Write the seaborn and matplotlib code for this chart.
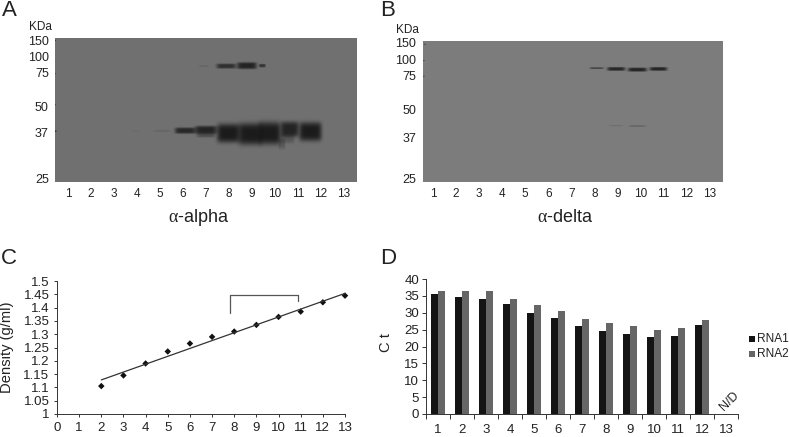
import numpy as np
import pandas as pd
import matplotlib
matplotlib.use("Agg")
import matplotlib.pyplot as plt
from matplotlib.patches import Rectangle
import seaborn as sns

W, H = 789, 437

# Blot labels
lanes = list(range(1, 14))
kda_labels = ["150", "100", "75", "50", "37", "25"]
kda_rf_a = [0.016, 0.128, 0.239, 0.476, 0.657, 0.974]
kda_rf_b = [0.010, 0.133, 0.242, 0.483, 0.682, 0.974]

# Blot A bands: lane, migration (0 top - 1 bottom), width (lanes), height (rf), darkness
a_lane = [6.9, 7.88, 8.78, 9.45, 3.93, 5.09, 6.1, 7.0, 7.0, 7.98, 8.93, 9.77, 10.3, 10.64, 10.55, 11.54,
          0.45, 0.45, 0.45, 0.45]
a_rf = [0.195, 0.195, 0.192, 0.192, 0.645, 0.645, 0.643, 0.638, 0.673, 0.661, 0.666, 0.661, 0.735, 0.633, 0.695, 0.650,
        0.016, 0.248, 0.464, 0.647]
a_w = [0.40, 0.85, 0.85, 0.28, 0.40, 0.70, 0.90, 0.95, 0.80, 1.00, 1.02, 0.96, 0.30, 0.78, 0.60, 0.98,
       0.06, 0.06, 0.06, 0.10]
a_h = [0.015, 0.034, 0.046, 0.024, 0.010, 0.015, 0.042, 0.055, 0.035, 0.130, 0.150, 0.155, 0.070, 0.105, 0.070, 0.130,
       0.008, 0.008, 0.008, 0.010]
a_d = [0.12, 0.75, 0.90, 0.70, 0.05, 0.12, 0.85, 0.90, 0.40, 1.0, 1.0, 1.0, 0.25, 0.90, 0.30, 1.0,
       0.6, 0.5, 0.5, 0.8]

# Blot B bands
b_lane = [8.1, 8.95, 9.87, 10.78, 8.95, 9.87, 0.65, 0.6, 0.6, 0.5, 0.5]
b_rf = [0.193, 0.198, 0.203, 0.198, 0.600, 0.603, 0.022, 0.140, 0.249, 0.465, 0.665]
b_w = [0.60, 0.78, 0.82, 0.76, 0.62, 0.72, 0.08, 0.07, 0.07, 0.06, 0.06]
b_h = [0.014, 0.026, 0.028, 0.026, 0.012, 0.014, 0.008, 0.008, 0.008, 0.008, 0.008]
b_d = [0.55, 0.90, 0.92, 0.92, 0.14, 0.22, 0.5, 0.6, 0.6, 0.6, 0.6]

# Density gradient
fractions = [2, 3, 4, 5, 6, 7, 8, 9, 10, 11, 12, 13]
density = [1.105, 1.145, 1.19, 1.235, 1.265, 1.29, 1.31, 1.335, 1.365, 1.385, 1.42, 1.445]
density_ticks = [1, 1.05, 1.1, 1.15, 1.2, 1.25, 1.3, 1.35, 1.4, 1.45, 1.5]
bracket_x = [7.8, 7.8, 10.9, 10.9]
bracket_y = [1.38, 1.447, 1.447, 1.425]

# Ct values
rna1 = [35.5, 34.6, 34.0, 32.5, 30.0, 28.4, 26.2, 24.7, 23.7, 22.8, 23.0, 26.4, np.nan]
rna2 = [36.3, 36.5, 36.3, 34.0, 32.4, 30.6, 28.2, 27.1, 26.0, 25.0, 25.4, 27.8, np.nan]


def px_axes(fig, left, top, right, bottom):
    return fig.add_axes([left / W, 1 - bottom / H, (right - left) / W, (bottom - top) / H])


def blot_image(nx, ny, x1, pitch, bg, lane, rf, w, h, d):
    # paint the read bands onto a flat film background
    xx, yy = np.meshgrid(np.arange(nx) + 0.5, np.arange(ny) + 0.5)
    img = np.full((ny, nx), float(bg))
    for l, r, bw, bh, dark in zip(lane, rf, w, h, d):
        cx = x1 + (l - 1) * pitch
        cy = r * ny
        u = (xx - cx) / (bw * pitch / 2)
        v = (yy - cy) / (bh * ny / 2)
        mask = np.exp(-np.abs(u) ** 6 - np.abs(v) ** 4)
        img *= 1 - 0.76 * dark * mask
    return img


def draw_blot(ax, img, x1, pitch, kda_rf, label_pad):
    ny, nx = img.shape
    sns.heatmap(img, ax=ax, cmap="gray", vmin=0, vmax=255, cbar=False,
                xticklabels=False, yticklabels=False, rasterized=True)
    ax.set_xticks([x1 + (l - 1) * pitch for l in lanes])
    ax.set_xticklabels(lanes, fontsize=8.5, color=TEXT, rotation=0)
    ax.set_yticks([r * ny for r in kda_rf])
    ax.set_yticklabels(kda_labels, fontsize=9, color=TEXT, rotation=0)
    ax.tick_params(axis="x", length=0, pad=4)
    ax.tick_params(axis="y", length=0, pad=label_pad)


TEXT = "#222222"
sns.set_theme(style="white")
plt.rcParams["font.family"] = ["Liberation Sans", "DejaVu Sans"]
plt.rcParams["mathtext.fontset"] = "custom"
plt.rcParams["mathtext.rm"] = "Liberation Serif"
plt.rcParams["mathtext.it"] = "Liberation Serif"

fig = plt.figure(figsize=(W / 100, H / 100), dpi=100)


def label(x, y, s, **kw):
    kw.setdefault("color", TEXT)
    fig.text(x / W, 1 - y / H, s, ha="center", va="center", **kw)


# Panel A
ax_a = px_axes(fig, 55, 38, 357, 182)
draw_blot(ax_a, blot_image(302, 144, 13, 23, 112, a_lane, a_rf, a_w, a_h, a_d), 13, 23, kda_rf_a, 4.5)
label(40, 27, "KDa", fontsize=8.5)
label(9, 11, "A", fontsize=16)
label(199, 218, r"$\mathrm{\alpha}$-alpha", fontsize=13)

# Panel B
ax_b = px_axes(fig, 423, 41, 723, 182)
draw_blot(ax_b, blot_image(300, 141, 10, 23.05, 124, b_lane, b_rf, b_w, b_h, b_d), 10, 23.05, kda_rf_b, 5)
label(407, 30, "KDa", fontsize=8.5)
label(388, 11, "B", fontsize=16)
label(565, 218, r"$\mathrm{\alpha}$-delta", fontsize=13)

# Panel C
ax_c = px_axes(fig, 57, 281, 345, 414)
sns.regplot(x=fractions, y=density, ax=ax_c, scatter=False, ci=None, truncate=True,
            line_kws={"color": "#333333", "lw": 0.9, "clip_on": False})
sns.scatterplot(x=fractions, y=density, ax=ax_c, marker="D", s=11, color="#111111", edgecolor="none", clip_on=False)
ax_c.plot(bracket_x, bracket_y, color="#555555", lw=0.9)
ax_c.set_xlim(0, 13)
ax_c.set_ylim(1, 1.5)
ax_c.set_xticks(range(0, 14))
ax_c.set_yticks(density_ticks)
ax_c.set_yticklabels([f"{t:g}" for t in density_ticks])
ax_c.set_ylabel("Density (g/ml)", fontsize=10.6, color=TEXT)
ax_c.yaxis.set_label_coords(-0.149, 0.5)
ax_c.tick_params(axis="both", labelsize=9.5, labelcolor=TEXT, length=2.5, width=0.7, color="#333333", pad=3,
                 left=True, bottom=True)
sns.despine(ax=ax_c)
for side in ["left", "bottom"]:
    ax_c.spines[side].set_color("#333333")
    ax_c.spines[side].set_linewidth(0.7)
label(9, 259, "C", fontsize=16)

# Panel D
df = pd.DataFrame({"fraction": lanes * 2,
                   "ct": rna1 + rna2,
                   "rna": ["RNA1"] * 13 + ["RNA2"] * 13})
ax_d = px_axes(fig, 426, 279, 738, 414)
sns.barplot(data=df, x="fraction", y="ct", hue="rna", ax=ax_d, width=0.62, gap=0, saturation=1, linewidth=0,
            palette={"RNA1": "#141414", "RNA2": "#666666"}, legend=False)
ax_d.set_xlim(-0.5, 12.5)
ax_d.set_ylim(0, 40)
ax_d.set_yticks(range(0, 41, 5))
ax_d.set_xlabel("")
ax_d.set_ylabel("C t", fontsize=10.6, color=TEXT)
ax_d.yaxis.set_label_coords(-0.106, 0.53)
ax_d.set_xticks(np.arange(-0.5, 13, 1), minor=True)
ax_d.tick_params(axis="x", which="major", length=0, labelsize=9.5, labelcolor=TEXT, pad=7)
ax_d.tick_params(axis="x", which="minor", length=3.5, width=0.7, color="#333333", bottom=True)
ax_d.tick_params(axis="y", labelsize=9.5, labelcolor=TEXT, length=3, width=0.7, color="#333333", pad=2, left=True)
sns.despine(ax=ax_d)
for side in ["left", "bottom"]:
    ax_d.spines[side].set_color("#333333")
    ax_d.spines[side].set_linewidth(0.7)
ax_d.text(12.15, 0.2, "N/D", rotation=45, ha="center", va="bottom", fontsize=9, color=TEXT)
label(388, 259, "D", fontsize=16)

# legend drawn beside the axes
for y_px, name, col in [(339, "RNA1", "#141414"), (354, "RNA2", "#666666")]:
    fig.add_artist(Rectangle((749 / W, 1 - (y_px + 3) / H), 6 / W, 6 / H, transform=fig.transFigure,
                             facecolor=col, edgecolor="none"))
    fig.text(757 / W, 1 - y_px / H, name, fontsize=8.6, color=TEXT, ha="left", va="center")

fig.savefig("out.png", dpi=100)
